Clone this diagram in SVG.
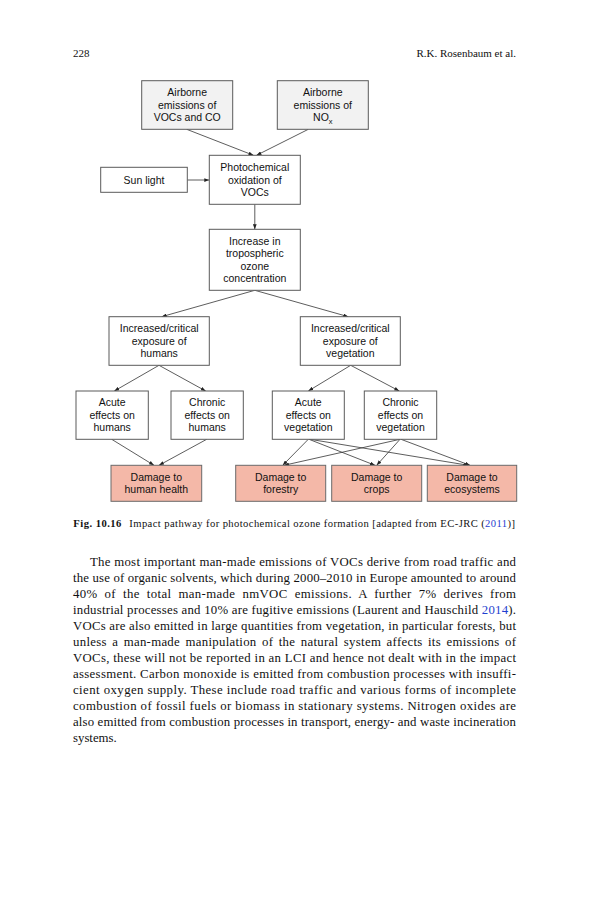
<svg xmlns="http://www.w3.org/2000/svg" width="593" height="900" viewBox="0 0 593 900">
<style>
.bx{fill:#ffffff;stroke:#5a5a5a;stroke-width:1}
.gr{fill:#f2f2f2;stroke:#5a5a5a;stroke-width:1}
.dm{fill:#f4b8a8;stroke:#6a6a6a;stroke-width:1}
.t{font-family:"Liberation Sans",Arial,sans-serif;font-size:10.5px;fill:#111;text-anchor:middle}
.c{stroke:#333;stroke-width:0.8;fill:none;marker-end:url(#ah)}
.body{font-family:"Liberation Serif","Times New Roman",serif;font-size:12.8px;fill:#111}
.hd{font-family:"Liberation Serif","Times New Roman",serif;font-size:11px;fill:#111}
.cap{font-family:"Liberation Serif","Times New Roman",serif;font-size:10.6px;fill:#111}
.lnk{fill:#1f3fd0}
</style>
<defs>
<marker id="ah" viewBox="0 0 8 6" refX="8" refY="3" markerWidth="5" markerHeight="4" markerUnits="userSpaceOnUse" orient="auto">
<path d="M0,0 L8,3 L0,6 z" fill="#222"/>
</marker>
</defs>
<rect width="593" height="900" fill="#ffffff"/>

<text class="hd" x="73" y="57">228</text>
<text class="hd" x="516" y="57" text-anchor="end">R.K. Rosenbaum et al.</text>

<g id="connectors">
<line class="c" x1="186.7" y1="129.3" x2="253.5" y2="155.3"/>
<line class="c" x1="308.3" y1="129.3" x2="256.5" y2="155.3"/>
<line class="c" x1="187.3" y1="180" x2="209.3" y2="180"/>
<line class="c" x1="254.8" y1="204.3" x2="254.8" y2="229.3"/>
<line class="c" x1="254.8" y1="290.3" x2="161.7" y2="316.7"/>
<line class="c" x1="254.8" y1="290.3" x2="348.3" y2="316.7"/>
<line class="c" x1="159" y1="365.3" x2="114.3" y2="391"/>
<line class="c" x1="159" y1="365.3" x2="205.7" y2="391"/>
<line class="c" x1="350.7" y1="365.3" x2="308.3" y2="391"/>
<line class="c" x1="350.7" y1="365.3" x2="399.3" y2="391"/>
<line class="c" x1="111.7" y1="439.3" x2="154" y2="465.3"/>
<line class="c" x1="206.7" y1="439.3" x2="159" y2="465.3"/>
<line class="c" x1="308.3" y1="439.3" x2="282.7" y2="465.3"/>
<line class="c" x1="309" y1="439.3" x2="375" y2="465.3"/>
<line class="c" x1="310" y1="439.3" x2="468.3" y2="465.3"/>
<line class="c" x1="400" y1="439.3" x2="284" y2="465.3"/>
<line class="c" x1="400" y1="439.3" x2="376.7" y2="465.3"/>
<line class="c" x1="401" y1="439.3" x2="470" y2="465.3"/>
</g>

<g id="n_voc">
<rect class="gr" x="141.7" y="80.7" width="91" height="48.6"/>
<text class="t" x="187.2" y="96">Airborne</text>
<text class="t" x="187.2" y="108.6">emissions of</text>
<text class="t" x="187.2" y="121.2">VOCs and CO</text>
</g>
<g id="n_nox">
<rect class="gr" x="277.3" y="80.7" width="91" height="48.6"/>
<text class="t" x="322.8" y="96">Airborne</text>
<text class="t" x="322.8" y="108.6">emissions of</text>
<text class="t" x="322.8" y="121.2">NO<tspan font-size="7.5px" dy="2.5">x</tspan></text>
</g>
<g id="n_sun">
<rect class="bx" x="100.7" y="167.3" width="86.6" height="25"/>
<text class="t" x="144" y="183.5">Sun light</text>
</g>
<g id="n_photo">
<rect class="bx" x="209.3" y="155.3" width="91" height="49"/>
<text class="t" x="254.8" y="171">Photochemical</text>
<text class="t" x="254.8" y="183.6">oxidation of</text>
<text class="t" x="254.8" y="196.2">VOCs</text>
</g>
<g id="n_ozone">
<rect class="bx" x="209.3" y="229.3" width="91" height="61"/>
<text class="t" x="254.8" y="244.5">Increase in</text>
<text class="t" x="254.8" y="257.1">tropospheric</text>
<text class="t" x="254.8" y="269.7">ozone</text>
<text class="t" x="254.8" y="282.3">concentration</text>
</g>
<g id="n_exp_h">
<rect class="bx" x="109" y="316.7" width="100.3" height="48.6"/>
<text class="t" x="159.2" y="332">Increased/critical</text>
<text class="t" x="159.2" y="344.6">exposure of</text>
<text class="t" x="159.2" y="357.2">humans</text>
</g>
<g id="n_exp_v">
<rect class="bx" x="300.3" y="316.7" width="100" height="48.6"/>
<text class="t" x="350.3" y="332">Increased/critical</text>
<text class="t" x="350.3" y="344.6">exposure of</text>
<text class="t" x="350.3" y="357.2">vegetation</text>
</g>
<g id="n_acute_h">
<rect class="bx" x="76" y="391" width="72.3" height="48.3"/>
<text class="t" x="112.2" y="406.2">Acute</text>
<text class="t" x="112.2" y="418.8">effects on</text>
<text class="t" x="112.2" y="431.4">humans</text>
</g>
<g id="n_chronic_h">
<rect class="bx" x="171" y="391" width="72.3" height="48.3"/>
<text class="t" x="207.2" y="406.2">Chronic</text>
<text class="t" x="207.2" y="418.8">effects on</text>
<text class="t" x="207.2" y="431.4">humans</text>
</g>
<g id="n_acute_v">
<rect class="bx" x="272.3" y="391" width="72" height="48.3"/>
<text class="t" x="308.3" y="406.2">Acute</text>
<text class="t" x="308.3" y="418.8">effects on</text>
<text class="t" x="308.3" y="431.4">vegetation</text>
</g>
<g id="n_chronic_v">
<rect class="bx" x="364.3" y="391" width="72.4" height="48.3"/>
<text class="t" x="400.5" y="406.2">Chronic</text>
<text class="t" x="400.5" y="418.8">effects on</text>
<text class="t" x="400.5" y="431.4">vegetation</text>
</g>
<g id="n_dmg_hh">
<rect class="dm" x="111" y="465.3" width="90.7" height="36"/>
<text class="t" x="156.3" y="480.6">Damage to</text>
<text class="t" x="156.3" y="493.2">human health</text>
</g>
<g id="n_dmg_for">
<rect class="dm" x="235.7" y="465.3" width="90" height="36"/>
<text class="t" x="280.7" y="480.6">Damage to</text>
<text class="t" x="280.7" y="493.2">forestry</text>
</g>
<g id="n_dmg_crop">
<rect class="dm" x="331.7" y="465.3" width="90" height="36"/>
<text class="t" x="376.7" y="480.6">Damage to</text>
<text class="t" x="376.7" y="493.2">crops</text>
</g>
<g id="n_dmg_eco">
<rect class="dm" x="427.3" y="465.3" width="89.4" height="36"/>
<text class="t" x="472" y="480.6">Damage to</text>
<text class="t" x="472" y="493.2">ecosystems</text>
</g>

<text class="cap" x="73.3" y="526.5" font-weight="bold" textLength="48" lengthAdjust="spacing">Fig. 10.16</text>
<text class="cap" x="129.3" y="526.5" textLength="385.7" lengthAdjust="spacing">Impact pathway for photochemical ozone formation [adapted from EC-JRC (<tspan class="lnk">2011</tspan>)]</text>

<g id="body">
<text class="body" x="90" y="566" textLength="426" lengthAdjust="spacing">The most important man-made emissions of VOCs derive from road traffic and</text>
<text class="body" x="73" y="582" textLength="443" lengthAdjust="spacing">the use of organic solvents, which during 2000–2010 in Europe amounted to around</text>
<text class="body" x="73" y="598" textLength="443" lengthAdjust="spacing" word-spacing="3.5">40% of the total man-made nmVOC emissions. A further 7% derives from</text>
<text class="body" x="73" y="614" textLength="443" lengthAdjust="spacing">industrial processes and 10% are fugitive emissions (Laurent and Hauschild <tspan class="lnk">2014</tspan>).</text>
<text class="body" x="73" y="630" textLength="443" lengthAdjust="spacing">VOCs are also emitted in large quantities from vegetation, in particular forests, but</text>
<text class="body" x="73" y="646" textLength="443" lengthAdjust="spacing" word-spacing="2">unless a man-made manipulation of the natural system affects its emissions of</text>
<text class="body" x="73" y="662" textLength="443" lengthAdjust="spacing">VOCs, these will not be reported in an LCI and hence not dealt with in the impact</text>
<text class="body" x="73" y="678" textLength="443" lengthAdjust="spacing">assessment. Carbon monoxide is emitted from combustion processes with insuffi-</text>
<text class="body" x="73" y="694" textLength="443" lengthAdjust="spacing">cient oxygen supply. These include road traffic and various forms of incomplete</text>
<text class="body" x="73" y="710" textLength="443" lengthAdjust="spacing">combustion of fossil fuels or biomass in stationary systems. Nitrogen oxides are</text>
<text class="body" x="73" y="726" textLength="443" lengthAdjust="spacing">also emitted from combustion processes in transport, energy- and waste incineration</text>
<text class="body" x="73" y="742">systems.</text>
</g>
</svg>
